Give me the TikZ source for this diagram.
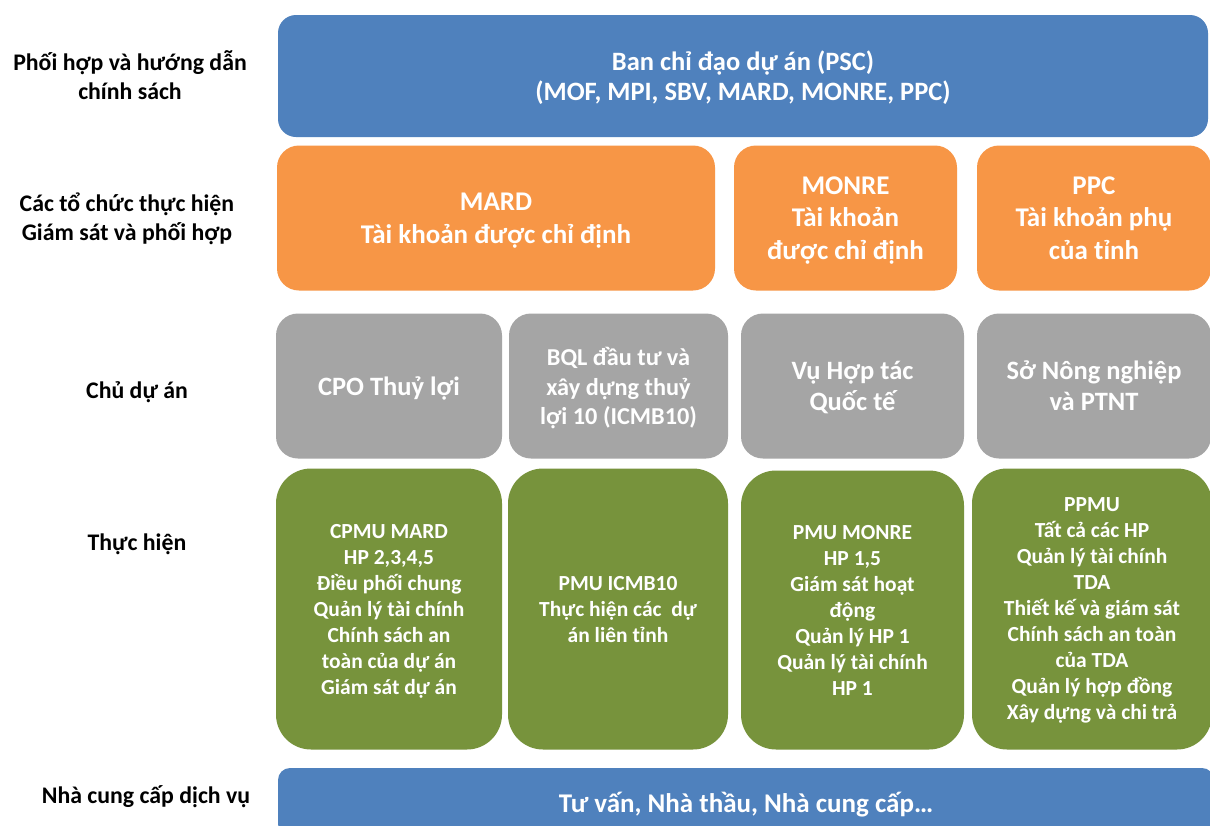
\documentclass[tikz,border=0pt]{standalone}
\usepackage{fontspec}
\setmainfont{Carlito}
\definecolor{cblue}{HTML}{4F81BD}
\definecolor{corange}{HTML}{F79646}
\definecolor{cgray}{HTML}{A5A5A5}
\definecolor{cgreen}{HTML}{77933C}
\tikzset{
  base/.style={rectangle, draw=none, text=white, align=center, inner sep=0pt, text depth=0pt},
  bluebox/.style={base, fill=cblue, rounded corners=18pt, font=\bfseries\fontsize{26.5}{30}\selectfont},
  orangebox/.style={base, fill=corange, rounded corners=22pt, minimum height=145pt, font=\bfseries\fontsize{27}{32.5}\selectfont},
  graybox/.style={base, fill=cgray, rounded corners=22pt, minimum height=145pt, font=\bfseries\fontsize{26.5}{31}\selectfont},
  greenbox/.style={base, fill=cgreen, rounded corners=35pt, minimum height=281pt, font=\bfseries\fontsize{21.5}{26}\selectfont},
  rowlabel/.style={align=center, inner sep=0pt, text=black, font=\bfseries\fontsize{23.8}{29}\selectfont},
}
\begin{document}
\begin{tikzpicture}[x=1pt, y=-1pt]
\clip (0,0) rectangle (1210,825);
\fill[white] (0,0) rectangle (1210,825);

% left labels
\node[rowlabel] (l1) at (130,75) {Phối hợp và hướng dẫn\\chính sách};
\node[rowlabel] (l2) at (127,219) {Các tổ chức thực hiện\\Giám sát và phối hợp};
\node[rowlabel] (l3) at (137,392) {Chủ dự án};
\node[rowlabel] (l4) at (137,544) {Thực hiện};
\node[rowlabel] (l5) at (146,797) {Nhà cung cấp dịch vụ};

% top
\node[bluebox, minimum width=930pt, minimum height=122pt] (psc) at (743,76)
  {Ban chỉ đạo dự án (PSC)\\(MOF, MPI, SBV, MARD, MONRE, PPC)};

% orange row
\node[orangebox, minimum width=438pt] (mard) at (496,218) {MARD\\Tài khoản được chỉ định};
\node[orangebox, minimum width=223pt] (monre) at (845.5,218) {MONRE\\Tài khoản\\được chỉ định};
\node[orangebox, minimum width=234pt] (ppc) at (1094,218) {PPC\\Tài khoản phụ\\của tỉnh};

% gray row
\node[graybox, minimum width=226pt] (cpo) at (389,386) {CPO Thuỷ lợi};
\node[graybox, minimum width=219pt, font=\bfseries\fontsize{24.3}{29.5}\selectfont] (bql) at (618.5,386) {BQL đầu tư và\\xây dựng thuỷ\\lợi 10 (ICMB10)};
\node[graybox, minimum width=223pt] (vu) at (852.5,386) {Vụ Hợp tác\\Quốc tế};
\node[graybox, minimum width=234pt] (so) at (1094,386) {Sở Nông nghiệp\\và PTNT};

% green row
\node[greenbox, minimum width=226pt] (cpmu) at (389,609)
  {CPMU MARD\\HP 2,3,4,5\\Điều phối chung\\Quản lý tài chính\\Chính sách an\\toàn của dự án\\Giám sát dự án};
\node[greenbox, minimum width=220pt] (icmb) at (618,609)
  {PMU ICMB10\\Thực hiện các\ \ dự\\án liên tỉnh};
\node[greenbox, minimum width=223pt, minimum height=279pt] (pmumonre) at (852.5,610)
  {PMU MONRE\\HP 1,5\\Giám sát hoạt\\động\\Quản lý HP 1\\Quản lý tài chính\\HP 1};
\node[greenbox, minimum width=240pt] (ppmu) at (1092,609)
  {PPMU\\Tất cả các HP\\Quản lý tài chính\\TDA\\Thiết kế và giám sát\\Chính sách an toàn\\của TDA\\Quản lý hợp đồng\\Xây dựng và chi trả};

% bottom
\node[bluebox, rounded corners=12pt, minimum width=936pt, minimum height=68pt, font=\bfseries\fontsize{27}{32}\selectfont] (tv) at (746,802)
  {Tư vấn, Nhà thầu, Nhà cung cấp…};
\end{tikzpicture}
\end{document}
